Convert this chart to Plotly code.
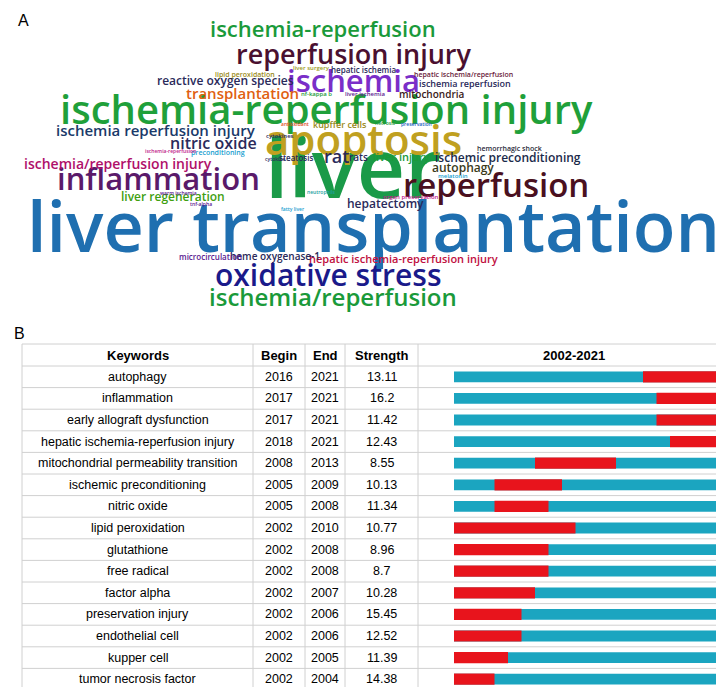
import plotly.graph_objects as go

# ---- word cloud data ----
words = ["liver transplantation", "liver", "ischemia-reperfusion injury", "apoptosis", "reperfusion",
         "inflammation", "ischemia", "reperfusion injury", "oxidative stress", "ischemia/reperfusion",
         "ischemia-reperfusion", "ischemia reperfusion injury", "nitric oxide", "ischemia/reperfusion injury",
         "transplantation", "reactive oxygen species", "ischemic preconditioning", "rat", "autophagy",
         "liver regeneration", "hepatectomy", "hepatic ischemia-reperfusion injury", "liver injury",
         "heme oxygenase-1", "mitochondria", "rats", "ischemia reperfusion", "kupffer cells",
         "microcirculation", "hepatic ischemia", "steatosis", "lipid peroxidation", "hepatic ischemia/reperfusion",
         "hemorrhagic shock", "preconditioning", "liver surgery", "nf-kappa b", "liver ischemia", "cytokines",
         "melatonin", "organ preservation", "antioxidant", "necrosis", "preservation", "cytokine",
         "ischemia-reperfusion", "warm ischemia", "tnf-alpha", "neutrophils", "fatty liver"]
word_size = [70, 84, 40, 42, 33, 31, 31, 27, 30, 24, 22, 15, 16, 14, 15, 12, 12, 18, 12, 12, 12, 11, 11,
             10, 10, 10, 9, 9, 8, 8, 8, 7, 7, 7, 7, 6, 6, 6, 6, 6, 6, 5, 5, 5, 5, 5, 5, 5, 5, 5]
word_color = ["#1f6fb0", "#1a9a48", "#1fa03a", "#c0a020", "#4a1020", "#5a1a6a", "#7a2ec8", "#4a1030",
              "#1a1a8a", "#1a9a3a", "#1a9a3a", "#1a3a6a", "#2a2a5a", "#b0106a", "#e06010", "#2a2a5a",
              "#1a2a4a", "#2a2a5a", "#3a3a1a", "#40a010", "#2a2a5a", "#c01040", "#1a9a3a", "#2a2a5a",
              "#3a1a1a", "#2a2a5a", "#2a2a5a", "#9a8a20", "#5a2090", "#2a2a5a", "#2a2a5a", "#9a8a20",
              "#6a1a3a", "#2a2a3a", "#20a0d0", "#9a9a20", "#1a9a3a", "#5a2090", "#2a2a5a", "#20a0d0",
              "#c0208a", "#e05020", "#1a9a3a", "#2060c0", "#2a2a5a", "#c0208a", "#5a2090", "#5a2090",
              "#20a0a0", "#20a0d0"]
word_px = [365, 345, 318, 355, 488, 150, 345, 345, 320, 325, 315, 148, 205, 110, 235, 217, 500, 328, 455,
           165, 377, 395, 393, 267, 423, 350, 457, 332, 203, 355, 288, 237, 455, 502, 210, 303, 308, 357,
           272, 445, 403, 287, 377, 408, 267, 162, 170, 193, 313, 285]
word_py = [217, 158, 101, 130, 176, 170, 72, 46, 266, 288, 20, 122, 135, 155, 85, 73, 149, 148, 159,
           188, 196, 250, 148, 248, 86, 149, 75, 116, 248, 61, 149, 66, 66, 140, 145, 60, 86, 86, 128,
           168, 189, 116, 115, 116, 151, 143, 185, 196, 184, 201]

# ---- burst table data ----
keywords = ["autophagy", "inflammation", "early allograft dysfunction", "hepatic ischemia-reperfusion injury",
            "mitochondrial permeability transition", "ischemic preconditioning", "nitric oxide",
            "lipid peroxidation", "glutathione", "free radical", "factor alpha", "preservation injury",
            "endothelial cell", "kupper cell", "tumor necrosis factor"]
begin = [2016, 2017, 2017, 2018, 2008, 2005, 2005, 2002, 2002, 2002, 2002, 2002, 2002, 2002, 2002]
end = [2021, 2021, 2021, 2021, 2013, 2009, 2008, 2010, 2008, 2008, 2007, 2006, 2006, 2005, 2004]
strength = [13.11, 16.2, 11.42, 12.43, 8.55, 10.13, 11.34, 10.77, 8.96, 8.7, 10.28, 15.45, 12.52, 11.39, 14.38]
headers = ["Keywords", "Begin", "End", "Strength", "2002-2021"]

W, H = 724, 687
col_x = [14, 245, 297, 337, 410, 722]
top, head_bot, bot = 336, 358, 682
row_h = (bot - head_bot) / len(keywords)

def px(x):
    return x / W

def py(y):
    return 1 - y / H

def label(text, x, y, size, color="black", family="Arial", weight=400, xanchor="center"):
    return dict(text=text, x=px(x), y=py(y), xref="paper", yref="paper", showarrow=False,
                xanchor=xanchor, yanchor="middle",
                font=dict(family=family, size=size, color=color, weight=weight))

fig = go.Figure()
fig.add_trace(go.Bar(y=keywords, x=[20] * len(keywords), base=[2002] * len(keywords), orientation="h",
                     marker=dict(color="#1ba5c0", line_width=0), width=0.5, hoverinfo="skip"))
fig.add_trace(go.Bar(y=keywords, x=[e - b + 1 for b, e in zip(begin, end)], base=begin, orientation="h",
                     marker=dict(color="#e8141c", line_width=0), width=0.52, hoverinfo="skip"))

ann = []
for w, s, c, x, y in zip(words, word_size, word_color, word_px, word_py):
    ann.append(label(w, x, y, s, c, "Open Sans", 600))
ann.append(label("A", 8, 12, 16, xanchor="left"))
ann.append(label("B", 4, 325, 16, xanchor="left"))

shapes = []
for i, h in enumerate(headers):
    cx = (col_x[i] + col_x[i + 1]) / 2
    ann.append(label("<b>%s</b>" % h, cx, (top + head_bot) / 2, 13))
for r in range(len(keywords)):
    cy = head_bot + (r + 0.5) * row_h
    vals = [keywords[r], str(begin[r]), str(end[r]), str(strength[r])]
    for i, v in enumerate(vals):
        cx = (col_x[i] + col_x[i + 1]) / 2
        ann.append(label(v, cx, cy, 12.5))
for x in col_x:
    shapes.append(dict(type="line", xref="paper", yref="paper", x0=px(x), x1=px(x), y0=py(top), y1=py(bot),
                       line=dict(color="#d0d0d0", width=1)))
for k in range(len(keywords) + 2):
    y = top if k == 0 else head_bot + (k - 1) * row_h
    shapes.append(dict(type="line", xref="paper", yref="paper", x0=px(col_x[0]), x1=px(col_x[-1]),
                       y0=py(y), y1=py(y), line=dict(color="#d0d0d0", width=1)))

fig.update_layout(
    width=W, height=H, margin=dict(l=0, r=0, t=0, b=0), plot_bgcolor="white", paper_bgcolor="white",
    barmode="overlay", showlegend=False, annotations=ann, shapes=shapes,
    xaxis=dict(domain=[px(446), px(716)], range=[2002, 2022], visible=False, fixedrange=True),
    yaxis=dict(domain=[py(bot), py(head_bot)], autorange="reversed", visible=False, fixedrange=True),
)
fig.write_html("out.html")
